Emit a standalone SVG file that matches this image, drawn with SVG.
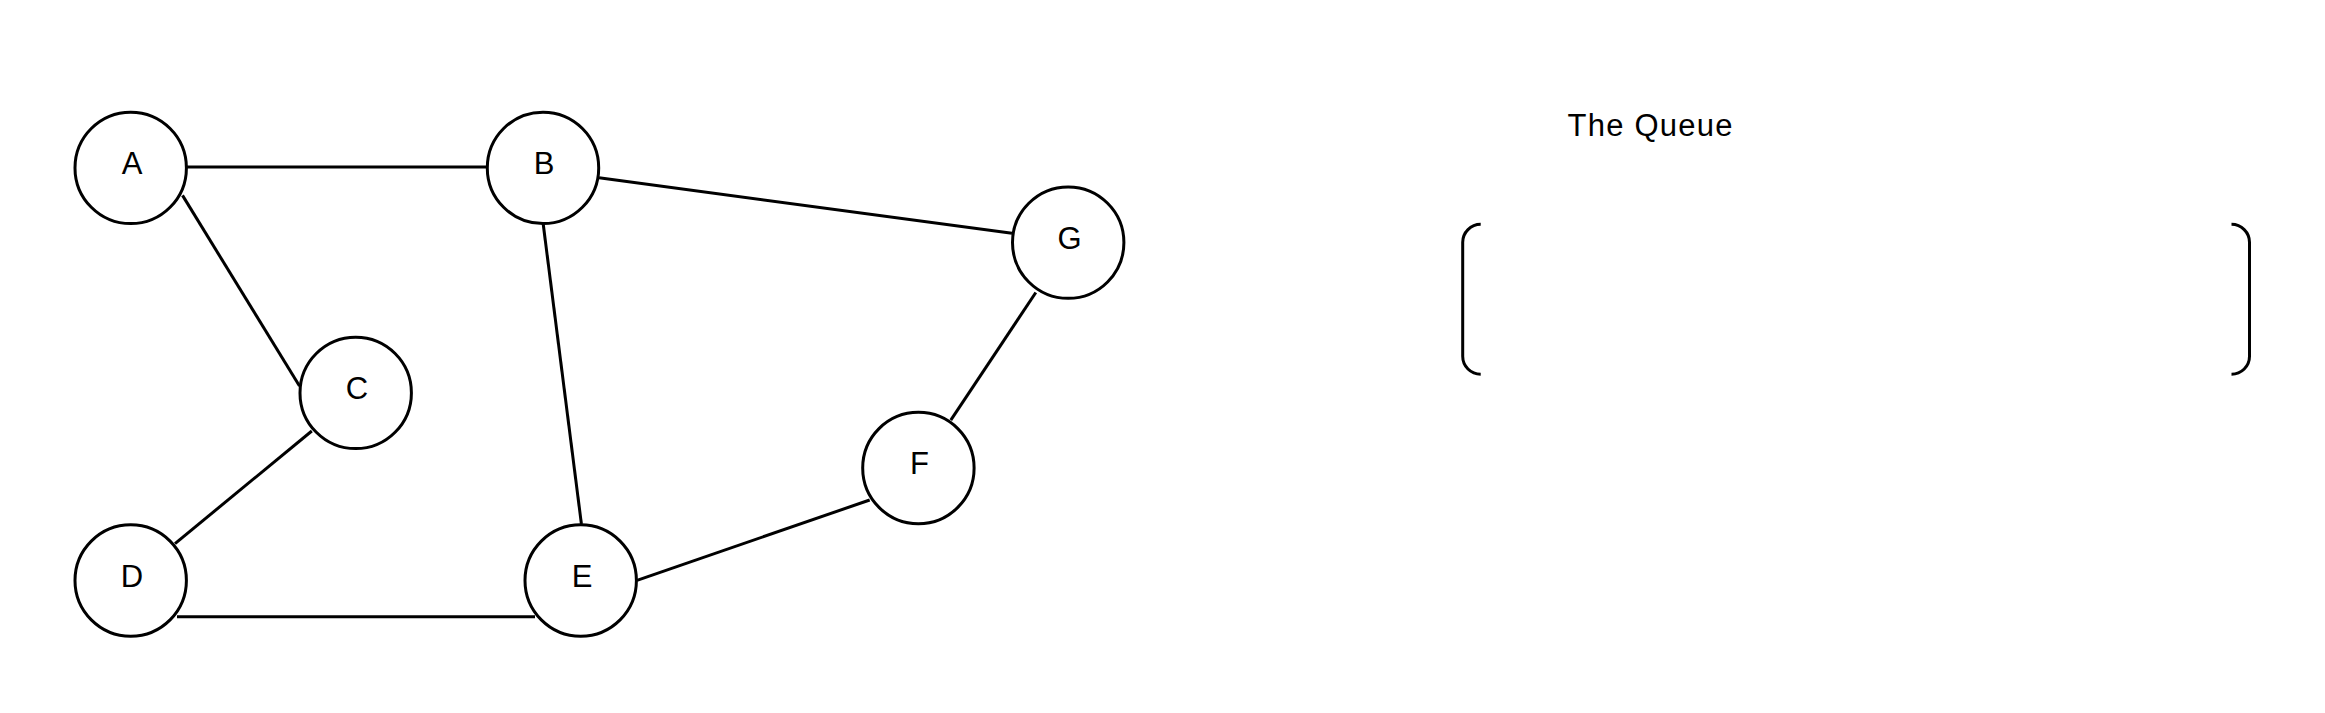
<svg xmlns="http://www.w3.org/2000/svg" width="2325" height="713" viewBox="0 0 2325 713">
<style>
.node{fill:#ffffff;stroke:#000000;stroke-width:3}
.lbl{font-family:"Liberation Sans",Arial,sans-serif;font-size:31px;fill:#000000;text-anchor:middle}
.edge{stroke:#000000;stroke-width:3;fill:none}
.br{stroke:#000000;stroke-width:3;fill:none;stroke-linecap:butt}
</style>
<rect x="0" y="0" width="2325" height="713" fill="#ffffff"/>
<g id="connectors">
<line class="edge" x1="187" y1="167" x2="487" y2="167"/>
<line class="edge" x1="182.5" y1="195.4" x2="299.5" y2="386"/>
<line class="edge" x1="311.8" y1="431" x2="175" y2="543.6"/>
<line class="edge" x1="543.2" y1="224" x2="581.4" y2="524"/>
<line class="edge" x1="177" y1="616.8" x2="535" y2="616.8"/>
<line class="edge" x1="599" y1="177.8" x2="1012" y2="233.3"/>
<line class="edge" x1="1035.8" y1="292.5" x2="950.8" y2="420.2"/>
<line class="edge" x1="637" y1="580.3" x2="869.7" y2="500"/>
</g>
<g id="node-A"><circle class="node" cx="130.7" cy="167.9" r="55.7"/><text class="lbl" x="132" y="174">A</text></g>
<g id="node-B"><circle class="node" cx="543" cy="167.9" r="55.7"/><text class="lbl" x="544" y="174">B</text></g>
<g id="node-C"><circle class="node" cx="355.7" cy="392.9" r="55.7"/><text class="lbl" x="357" y="399">C</text></g>
<g id="node-D"><circle class="node" cx="130.7" cy="580.5" r="55.7"/><text class="lbl" x="132" y="586.5">D</text></g>
<g id="node-E"><circle class="node" cx="580.7" cy="580.5" r="55.7"/><text class="lbl" x="582" y="586.5">E</text></g>
<g id="node-F"><circle class="node" cx="918.4" cy="468" r="55.7"/><text class="lbl" x="919.5" y="474">F</text></g>
<g id="node-G"><circle class="node" cx="1068.2" cy="242.6" r="55.7"/><text class="lbl" x="1069.5" y="248.6">G</text></g>
<g id="queue">
<text class="lbl" x="1650" y="135.5" textLength="165" lengthAdjust="spacing">The Queue</text>
<path class="br" d="M1480.7,224.3 A18,18 0 0 0 1462.7,242.3 L1462.7,356.3 A18,18 0 0 0 1480.7,374.3"/>
<path class="br" d="M2231.5,224.3 A18,18 0 0 1 2249.5,242.3 L2249.5,356.3 A18,18 0 0 1 2231.5,374.3"/>
</g>
</svg>
